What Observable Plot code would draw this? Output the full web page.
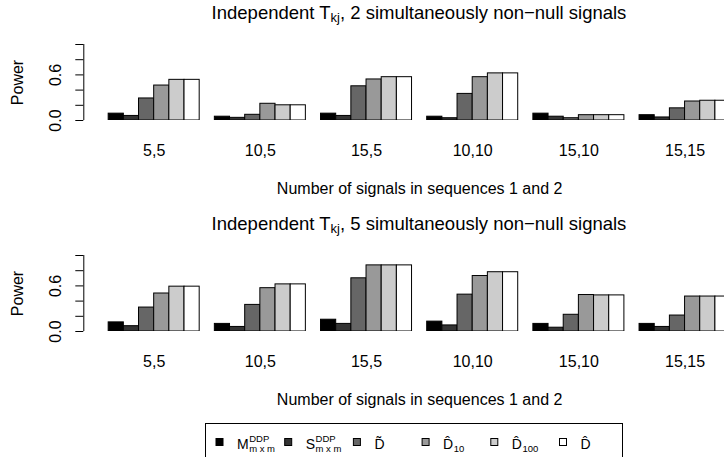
<!DOCTYPE html>
<html><head><meta charset="utf-8">
<script src="https://cdn.jsdelivr.net/npm/d3@7"></script>
<script src="https://cdn.jsdelivr.net/npm/@observablehq/plot@0.6"></script>
<style>
html,body{margin:0;padding:0;background:#fff;overflow:hidden;width:724px;height:457px}
body{position:relative}
.panel{position:absolute;left:0}
</style></head>
<body>
<script>
const FONT = '"Liberation Sans", Arial, Helvetica, sans-serif';

// Categories
const groups = ["5,5", "10,5", "15,5", "10,10", "15,10", "15,15"];
const seriesKeys = ["M", "S", "Dtilde", "Dhat10", "Dhat100", "Dhat"];
const grays = ["#000000", "#333333", "#666666", "#999999", "#cccccc", "#ffffff"];

// Top panel: 2 simultaneously non-null signals
const topM       = [0.09, 0.05, 0.09, 0.05, 0.09, 0.07];
const topS       = [0.06, 0.035, 0.06, 0.03, 0.05, 0.04];
const topDtilde  = [0.29, 0.075, 0.45, 0.35, 0.03, 0.16];
const topDhat10  = [0.46, 0.22, 0.54, 0.57, 0.07, 0.25];
const topDhat100 = [0.535, 0.20, 0.57, 0.62, 0.07, 0.26];
const topDhat    = [0.535, 0.20, 0.57, 0.62, 0.07, 0.26];

// Bottom panel: 5 simultaneously non-null signals
const botM       = [0.12, 0.10, 0.155, 0.13, 0.10, 0.10];
const botS       = [0.07, 0.06, 0.10, 0.08, 0.05, 0.06];
const botDtilde  = [0.315, 0.35, 0.70, 0.485, 0.22, 0.21];
const botDhat10  = [0.50, 0.57, 0.87, 0.73, 0.48, 0.46];
const botDhat100 = [0.59, 0.62, 0.87, 0.78, 0.475, 0.46];
const botDhat    = [0.59, 0.62, 0.87, 0.78, 0.475, 0.46];

// Axis ticks and labels
const yTicks = [0, 0.2, 0.4, 0.6, 0.8, 1.0];
const yTickLabels = [0, 0.6];
const yLabel = "Power";
const xLabel = "Number of signals in sequences 1 and 2";
const titleCounts = [2, 5];

// Legend text
const legMain = ["M", "S", "D\u0303", "D\u0302", "D\u0302", "D\u0302"];
const legSup  = ["DDP", "DDP", "", "", "", ""];
const legSub  = ["m x m", "m x m", "", "10", "100", ""];

// barplot layout (beside=TRUE, space=c(0,1)): 7 slots per group
const nS = seriesKeys.length, slot = nS + 1;
const xmin = 1 - 0.04 * (groups.length * slot - 1);
const xmax = xmin + 42.24;
const usrMid = (1 + groups.length * slot) / 2;

function rowsFor(arrs) {
  const rows = [];
  arrs.forEach((arr, j) => arr.forEach((v, i) => {
    rows.push({group: groups[i], series: seriesKeys[j], x1: slot * i + 1 + j, x2: slot * i + 2 + j, value: v});
  }));
  return rows;
}

function panel(arrs) {
  const rows = rowsFor(arrs);
  return Plot.plot({
    width: 724, height: 211,
    marginLeft: 83.3, marginRight: 0, marginTop: 44, marginBottom: 91,
    x: {domain: [xmin, xmax], axis: null},
    y: {domain: [0, 1], axis: null},
    color: {domain: seriesKeys, range: grays},
    style: {fontFamily: FONT, fontSize: "16px", background: "transparent", color: "#000"},
    marks: [
      Plot.rect(rows, {x1: "x1", x2: "x2", y1: 0, y2: "value", fill: "series", stroke: "#000", strokeWidth: 1, clip: true}),
      Plot.ruleX([xmin], {y1: 0, y2: 1, stroke: "#000"}),
      Plot.axisY({ticks: yTicks, tickSize: 8, tickFormat: () => "", label: null, stroke: "#000"}),
      Plot.text(yTickLabels, {y: d => d, text: d => d.toFixed(1), frameAnchor: "left", textAnchor: "middle", dx: -28, rotate: -90, fontSize: 16}),
      Plot.text([yLabel], {frameAnchor: "left", textAnchor: "middle", dx: -66, rotate: -90, fontSize: 16}),
      Plot.text(groups, {x: (d, i) => slot * i + 4, y: 0, dy: 30, text: d => d, fontSize: 16}),
      Plot.text([xLabel], {x: usrMid, y: 0, dy: 68, fontSize: 16})
    ]
  });
}

const p1 = panel([topM, topS, topDtilde, topDhat10, topDhat100, topDhat]);
p1.classList.add("panel"); p1.style.top = "0px";
document.body.appendChild(p1);
const p2 = panel([botM, botS, botDtilde, botDhat10, botDhat100, botDhat]);
p2.classList.add("panel"); p2.style.top = "211px";
document.body.appendChild(p2);

// Overlay: titles and legend
const ov = d3.select("body").append("svg")
  .attr("width", 724).attr("height", 457)
  .style("position", "absolute").style("left", "0px").style("top", "0px")
  .attr("font-family", FONT);

titleCounts.forEach((n, k) => {
  const t = ov.append("text").attr("x", 419).attr("y", 18.5 + 211 * k)
    .attr("text-anchor", "middle").attr("font-size", 18.5).attr("fill", "#000");
  t.append("tspan").text("Independent T");
  t.append("tspan").attr("font-size", "0.7em").attr("dy", 3.5).text("kj");
  t.append("tspan").attr("dy", -3.5).text(`, ${n} simultaneously non\u2212null signals`);
});

ov.append("rect").attr("x", 205.5).attr("y", 423.5).attr("width", 417).attr("height", 60)
  .attr("fill", "none").attr("stroke", "#000");

const base = 449.3;
legMain.forEach((m, i) => {
  const cx = 219.5 + i * 68.7;
  ov.append("rect").attr("x", cx - 3.5).attr("y", 438.5).attr("width", 7).attr("height", 7)
    .attr("fill", grays[i]).attr("stroke", "#000");
  const tx = cx + 17.5;
  const main = ov.append("text").attr("x", tx).attr("y", base).attr("font-size", 14).attr("fill", "#000").text(m);
  const w = main.node().getComputedTextLength();
  if (legSup[i]) ov.append("text").attr("x", tx + w + 0.5).attr("y", base - 7).attr("font-size", 9.5).attr("fill", "#000").text(legSup[i]);
  if (legSub[i]) ov.append("text").attr("x", tx + w + 0.5).attr("y", base + 2.5).attr("font-size", 9.5).attr("fill", "#000").text(legSub[i]);
});
</script>
</body></html>
